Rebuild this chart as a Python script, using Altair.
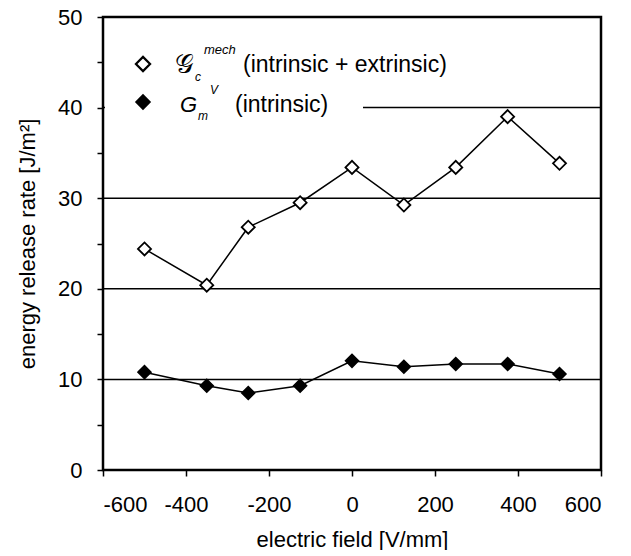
import altair as alt
import pandas as pd

# ---- data ----
field = [-500, -350, -250, -125, 0, 125, 250, 375, 500]
g_mech = [24.4, 20.4, 26.8, 29.5, 33.4, 29.25, 33.4, 39.0, 33.85]   # open diamonds
g_int = [10.8, 9.3, 8.5, 9.3, 12.05, 11.4, 11.7, 11.7, 10.6]       # filled diamonds
grid_vals = [10, 20, 30, 40]
x_ticks = [-600, -400, -200, 0, 200, 400, 600]
y_ticks = [0, 5, 10, 15, 20, 25, 30, 35, 40, 45, 50]

FONT = "Liberation Sans"

df = pd.DataFrame({"field": field, "g_mech": g_mech, "g_int": g_int})
grid_df = pd.DataFrame({"v": grid_vals})
one = pd.DataFrame({"k": [0]})

xscale = alt.Scale(domain=[-600, 600], nice=False, zero=False)
yscale = alt.Scale(domain=[0, 50], nice=False)

xaxis = alt.Axis(values=x_ticks, title="electric field [V/mm]", grid=False,
                 labelExpr="datum.value + ''",
                 tickSize=6, tickColor="black", tickWidth=1.5, domain=False,
                 labelFontSize=22, labelFont=FONT, labelColor="black", labelPadding=18,
                 titleFontSize=22, titleFont=FONT, titleFontWeight="normal",
                 titleColor="black", titlePadding=14)
yaxis = alt.Axis(values=y_ticks, title="energy release rate  [J/m²]", grid=False,
                 labelExpr="datum.value % 10 == 0 ? datum.value + '' : ''",
                 tickSize=6, tickColor="black", tickWidth=1.5, domain=False,
                 labelFontSize=22, labelFont=FONT, labelColor="black", labelPadding=15,
                 titleFontSize=22, titleFont=FONT, titleFontWeight="normal",
                 titleColor="black", titlePadding=18)

grid = alt.Chart(grid_df).mark_rule(color="black", strokeWidth=1.5).encode(
    y=alt.Y("v:Q", scale=yscale, axis=yaxis)
)

legend_bg = alt.Chart(one).mark_rect(color="white").encode(
    x=alt.value(2), x2=alt.value(260), y=alt.value(22), y2=alt.value(112)
)

line_mech = alt.Chart(df).mark_line(color="black", strokeWidth=1.5).encode(
    x=alt.X("field:Q", scale=xscale, axis=xaxis),
    y=alt.Y("g_mech:Q", scale=yscale),
)
line_int = alt.Chart(df).mark_line(color="black", strokeWidth=1.5).encode(
    x=alt.X("field:Q", scale=xscale),
    y=alt.Y("g_int:Q", scale=yscale),
)
pts_mech = alt.Chart(df).mark_point(shape="diamond", filled=True, fill="white",
                                     stroke="black", strokeWidth=1.8, size=170,
                                     opacity=1).encode(
    x=alt.X("field:Q", scale=xscale),
    y=alt.Y("g_mech:Q", scale=yscale),
)
pts_int = alt.Chart(df).mark_point(shape="diamond", filled=True, fill="black",
                                    stroke="black", strokeWidth=1.5, size=170,
                                    opacity=1).encode(
    x=alt.X("field:Q", scale=xscale),
    y=alt.Y("g_int:Q", scale=yscale),
)

leg_sym1 = alt.Chart(one).mark_point(shape="diamond", filled=True, fill="white",
                                      stroke="black", strokeWidth=2.2, size=200,
                                      opacity=1).encode(
    x=alt.value(40), y=alt.value(47))
leg_sym2 = alt.Chart(one).mark_point(shape="diamond", filled=True, fill="black",
                                      stroke="black", strokeWidth=1.5, size=200,
                                      opacity=1).encode(
    x=alt.value(40), y=alt.value(85))


def txt(text, x, y, size=22, style="normal", font=FONT, baseline="alphabetic"):
    return alt.Chart(one).mark_text(text=text, align="left", baseline=baseline,
                                    fontSize=size, fontStyle=style, font=font,
                                    color="black").encode(
        x=alt.value(x), y=alt.value(y))


legend_texts = [
    txt("𝒢", 72, 56, size=26, font="DejaVu Serif"),
    txt("c", 92, 64, size=12, style="italic"),
    txt("mech", 101, 37, size=13, style="italic"),
    txt("(intrinsic + extrinsic)", 140, 55, size=23),
    txt("G", 77, 95, size=22, style="italic"),
    txt("m", 95, 103, size=12, style="italic"),
    txt("V", 107, 77, size=12, style="italic"),
    txt("(intrinsic)", 132, 95, size=23),
]

chart = alt.layer(grid, legend_bg, line_mech, line_int, pts_mech, pts_int,
                  leg_sym1, leg_sym2, *legend_texts).properties(
    width=498, height=453,
    background="white",
    autosize=alt.AutoSizeParams(type="none"),
    padding={"left": 95, "top": 9, "right": 20, "bottom": 80},
).configure_view(stroke="black", strokeWidth=2.5)

chart.save("out.html", embed_options={"renderer": "svg", "actions": False})
